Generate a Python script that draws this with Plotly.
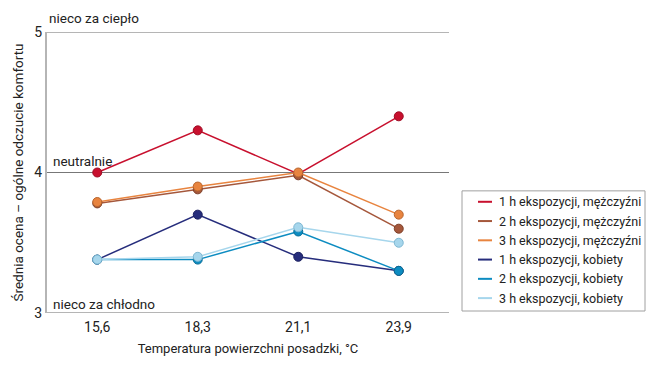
import plotly.graph_objects as go

categories = ["15,6", "18,3", "21,1", "23,9"]
series_names = [
    "1 h ekspozycji, mężczyźni",
    "2 h ekspozycji, mężczyźni",
    "3 h ekspozycji, mężczyźni",
    "1 h ekspozycji, kobiety",
    "2 h ekspozycji, kobiety",
    "3 h ekspozycji, kobiety",
]
men_1h = [4.0, 4.3, 3.99, 4.4]
men_2h = [3.78, 3.88, 3.98, 3.6]
men_3h = [3.79, 3.9, 4.0, 3.7]
women_1h = [3.38, 3.7, 3.4, 3.3]
women_2h = [3.38, 3.38, 3.58, 3.3]
women_3h = [3.38, 3.4, 3.61, 3.5]
series_values = [men_1h, men_2h, men_3h, women_1h, women_2h, women_3h]
colors = ["#c8102e", "#a5573b", "#e8843f", "#262d7c", "#0d8cc1", "#a6d6ec"]
edge = ["#9e0c24", "#7e4028", "#b8652e", "#1c2160", "#0a6d96", "#7fb8d3"]

FONT = "Liberation Sans Narrow, Arial Narrow, Roboto, sans-serif"

L, R, T, B, W, H = 47, 207, 32, 50, 656, 365
PW, PH = W - L - R, H - T - B


def px(x):
    return (x - L) / PW


def py(y):
    return (H - B - y) / PH


fig = go.Figure()
for i in range(6):
    fig.add_trace(go.Scatter(
        x=categories, y=series_values[i], name=series_names[i],
        mode="lines+markers", showlegend=False,
        line=dict(color=colors[i], width=1.5),
        marker=dict(size=9, color=colors[i], line=dict(color=edge[i], width=1)),
    ))

fig.update_layout(
    width=W, height=H,
    margin=dict(l=L, r=R, t=T, b=B),
    paper_bgcolor="white", plot_bgcolor="white",
    font=dict(family=FONT, size=13, color="#222"),
    showlegend=False,
    xaxis=dict(
        type="category", range=[-0.5, 3.5],
        showgrid=False, zeroline=False, showline=False,
        ticks="", tickfont=dict(size=14), ticklabelstandoff=4,
        title=dict(text="Temperatura powierzchni posadzki, °C", font=dict(size=13), standoff=9),
    ),
    yaxis=dict(
        range=[3, 5], tickvals=[3, 4, 5], ticktext=["3", "4", "5"],
        showgrid=False, zeroline=False,
        showline=True, linecolor="#b5b5b5", linewidth=2,
        ticks="", tickfont=dict(size=14),
        title=dict(text="Średnia ocena – ogólne odczucie komfortu", font=dict(size=13.5), standoff=8),
    ),
)

fig.add_shape(type="line", xref="paper", yref="y", x0=0, x1=1, y0=5, y1=5,
              line=dict(color="#b5b5b5", width=2), layer="below")
fig.add_shape(type="line", xref="paper", yref="y", x0=0, x1=1, y0=4, y1=4,
              line=dict(color="#777", width=1), layer="below")
fig.add_shape(type="line", xref="paper", yref="y", x0=0, x1=1, y0=3, y1=3,
              line=dict(color="#b5b5b5", width=2), layer="below")

for txt, yv, xv, ys in [("nieco za ciepło", 5, px(47), 4),
                        ("neutralnie", 4, px(51), 1.5),
                        ("nieco za chłodno", 3, px(51), -1)]:
    fig.add_annotation(text=txt, xref="paper", yref="y", x=xv, y=yv,
                       xanchor="left", yanchor="bottom", showarrow=False, yshift=ys,
                       font=dict(family=FONT, size=13.5, color="#222"))

# legend box (drawn manually to match the compact reference legend)
fig.add_shape(type="rect", xref="paper", yref="paper",
              x0=px(462), x1=px(645), y0=py(192), y1=py(313),
              line=dict(color="#a0a0a0", width=1), fillcolor="white")
for i in range(6):
    yy = 203 + i * 19.4
    fig.add_shape(type="line", xref="paper", yref="paper",
                  x0=px(478), x1=px(492), y0=py(yy), y1=py(yy),
                  line=dict(color=colors[i], width=2))
    fig.add_annotation(text=series_names[i], xref="paper", yref="paper",
                       x=px(497), y=py(yy), xanchor="left", yanchor="middle",
                       showarrow=False, font=dict(family=FONT, size=12.5, color="#222"))

fig.write_html("out.html")
